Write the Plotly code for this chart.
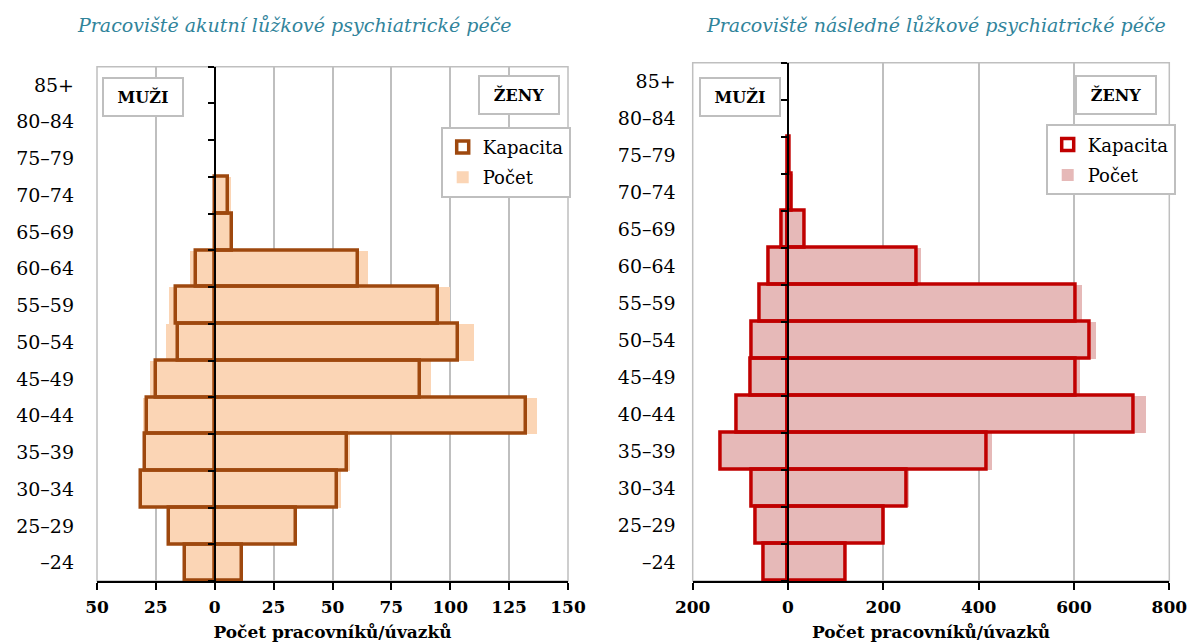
import plotly.graph_objects as go

# ---------------- data ----------------
ages = ["–24", "25–29", "30–34", "35–39", "40–44", "45–49", "50–54",
        "55–59", "60–64", "65–69", "70–74", "75–79", "80–84", "85+"]

# Pracoviště akutní lůžkové psychiatrické péče
acute_men_capacity = [12.8, 19.6, 31.2, 29.8, 28.7, 24.8, 15.6, 16.3, 7.8, None, None, None, None, None]
acute_men_count = [13.5, 20.0, 32.2, 30.5, 30.5, 27.7, 20.6, 19.6, 10.6, None, None, None, None, None]
acute_women_capacity = [11.6, 34.3, 51.8, 56.0, 132.2, 87.0, 103.5, 94.8, 60.8, 7.4, 5.7, None, None, None]
acute_women_count = [12.0, 34.5, 53.4, 57.3, 136.9, 91.8, 110.0, 100.0, 65.0, 7.5, 7.0, None, None, None]

# Pracoviště následné lůžkové psychiatrické péče
follow_men_capacity = [51, 68.6, 75.5, 142, 107, 77.6, 75.5, 60, 40.6, 12.6, None, None, None, None]
follow_men_count = [52, 70, 77, 145, 110, 80, 78, 62, 43, 14, None, None, None, None]
follow_women_capacity = [120, 200.6, 248, 416, 725, 604, 633, 603, 271, 36, 8, 3, None, None]
follow_women_count = [121, 203, 253, 428, 750, 611, 645, 617, 278, 36, 9, 3, None, None]

acute_ticks = [-50, -25, 0, 25, 50, 75, 100, 125, 150]
follow_ticks = [-200, 0, 200, 400, 600, 800]
acute_range = [-50, 150]
follow_range = [-200, 800]

titles = ["Pracoviště akutní lůžkové psychiatrické péče",
          "Pracoviště následné lůžkové psychiatrické péče"]
x_title = "Počet pracovníků/úvazků"

# ---------------- layout constants ----------------
W, H = 1192, 642
FONT = "DejaVu Serif"
GRID = "#BFBFBF"


def px_x(p):
    return p / W


def px_y(p):
    return 1 - p / H


left_dom_x = [px_x(97), px_x(568)]
left_dom_y = [px_y(581), px_y(66.7)]
right_dom_x = [px_x(692.7), px_x(1169.3)]
right_dom_y = [px_y(581), px_y(62.7)]


def neg(vals):
    return [(-v if v is not None else None) for v in vals]


def zero_pos(dom, rng):
    return dom[0] + (0 - rng[0]) / (rng[1] - rng[0]) * (dom[1] - dom[0])


fig = go.Figure()

panels = [
    dict(xa="x", ya="y", yo="y3", leg="legend",
         men_cap=acute_men_capacity, men_cnt=acute_men_count,
         wom_cap=acute_women_capacity, wom_cnt=acute_women_count,
         cap_col="#9E480E", cnt_col="#FBD5B5"),
    dict(xa="x2", ya="y2", yo="y4", leg="legend2",
         men_cap=follow_men_capacity, men_cnt=follow_men_count,
         wom_cap=follow_women_capacity, wom_cnt=follow_women_count,
         cap_col="#C00000", cnt_col="#E6B9B8"),
]

for p in panels:
    fig.add_trace(go.Bar(
        x=neg(p["men_cnt"]) + p["wom_cnt"], y=ages + ages, orientation="h",
        width=1, base=0, name="Počet", legend=p["leg"], legendgroup="b" + p["leg"],
        legendrank=2, xaxis=p["xa"], yaxis=p["ya"],
        marker=dict(color=p["cnt_col"], line=dict(width=0)), hoverinfo="x+y"))
    fig.add_trace(go.Bar(
        x=neg(p["men_cap"]) + p["wom_cap"], y=ages + ages, orientation="h",
        width=1, base=0, name="Kapacita", legend=p["leg"], legendgroup="a" + p["leg"],
        legendrank=1, xaxis=p["xa"], yaxis=p["yo"],
        marker=dict(color="rgba(0,0,0,0)", line=dict(color=p["cap_col"], width=3.5)),
        hoverinfo="x+y"))

cat_common = dict(type="category", categoryorder="array", categoryarray=ages,
                  range=[-0.5, len(ages) - 0.5], showgrid=False, zeroline=False,
                  fixedrange=True, automargin=False)

xaxis_common = dict(showgrid=True, gridcolor=GRID, gridwidth=1.5, zeroline=False,
                    showline=True, linecolor="black", linewidth=1.5,
                    ticks="outside", ticklen=7, tickwidth=1.5, tickcolor="black",
                    ticklabelstandoff=3,
                    tickfont=dict(family=FONT, size=17, weight="bold", color="black"),
                    title=dict(text=x_title, standoff=10,
                               font=dict(family=FONT, size=17, weight="bold", color="black")),
                    fixedrange=True, automargin=False)

fig.update_layout(
    width=W, height=H,
    margin=dict(l=0, r=0, t=0, b=0),
    paper_bgcolor="white", plot_bgcolor="white",
    barmode="overlay", bargap=0,
    xaxis=dict(domain=left_dom_x, range=acute_range, tickvals=acute_ticks,
               ticktext=[str(abs(t)) for t in acute_ticks], anchor="y", **xaxis_common),
    xaxis2=dict(domain=right_dom_x, range=follow_range, tickvals=follow_ticks,
                ticktext=[str(abs(t)) for t in follow_ticks], anchor="y2", **xaxis_common),
    yaxis=dict(domain=left_dom_y, anchor="x", ticks="", showline=False,
               ticklabelstandoff=22,
               tickfont=dict(family=FONT, size=19, color="black"), **cat_common),
    yaxis2=dict(domain=right_dom_y, anchor="x2", ticks="", showline=False,
                ticklabelstandoff=16,
                tickfont=dict(family=FONT, size=19, color="black"), **cat_common),
    yaxis3=dict(overlaying="y", anchor="free", side="left",
                position=zero_pos(left_dom_x, acute_range),
                tickson="boundaries", ticks="outside", ticklen=6, tickwidth=1.5,
                tickcolor="black", showticklabels=False, showline=True,
                linecolor="black", linewidth=2, **cat_common),
    yaxis4=dict(overlaying="y2", anchor="free", side="left",
                position=zero_pos(right_dom_x, follow_range),
                tickson="boundaries", ticks="outside", ticklen=6, tickwidth=1.5,
                tickcolor="black", showticklabels=False, showline=True,
                linecolor="black", linewidth=2, **cat_common),
    legend=dict(x=px_x(440.7), y=px_y(126.7), xanchor="left", yanchor="top",
                bordercolor=GRID, borderwidth=2, bgcolor="white",
                font=dict(family=FONT, size=18, color="black"),
                traceorder="grouped", tracegroupgap=4, itemwidth=30),
    legend2=dict(x=px_x(1045.7), y=px_y(124.3), xanchor="left", yanchor="top",
                 bordercolor=GRID, borderwidth=2, bgcolor="white",
                 font=dict(family=FONT, size=18, color="black"),
                 traceorder="grouped", tracegroupgap=4, itemwidth=30),
    showlegend=True,
)

# plot-area frames
for xr, yr in (("x domain", "y domain"), ("x2 domain", "y2 domain")):
    fig.add_shape(type="rect", xref=xr, yref=yr, x0=0, x1=1, y0=0, y1=1,
                  line=dict(color=GRID, width=1.5), layer="below")

# titles
for t, cx in zip(titles, (294, 936)):
    fig.add_annotation(text=t, xref="paper", yref="paper", x=px_x(cx), y=px_y(25),
                       xanchor="center", yanchor="middle", showarrow=False,
                       font=dict(family=FONT, size=19, style="italic", color="#31849B"))

# MUŽI / ŽENY boxes
for txt, cx, cy in (("MUŽI", 142.5, 96.7), ("ŽENY", 518.7, 95),
                    ("MUŽI", 739.7, 96.7), ("ŽENY", 1115.9, 95)):
    fig.add_annotation(text=txt, xref="paper", yref="paper", x=px_x(cx), y=px_y(cy),
                       xanchor="center", yanchor="middle", showarrow=False,
                       width=72, height=30, borderpad=3, borderwidth=2,
                       bordercolor=GRID, bgcolor="white",
                       font=dict(family=FONT, size=16, weight="bold", color="black"))

fig.write_html("out.html", config={"displayModeBar": False},
               post_script="document.body.style.margin='0';document.body.style.overflow='hidden';")
